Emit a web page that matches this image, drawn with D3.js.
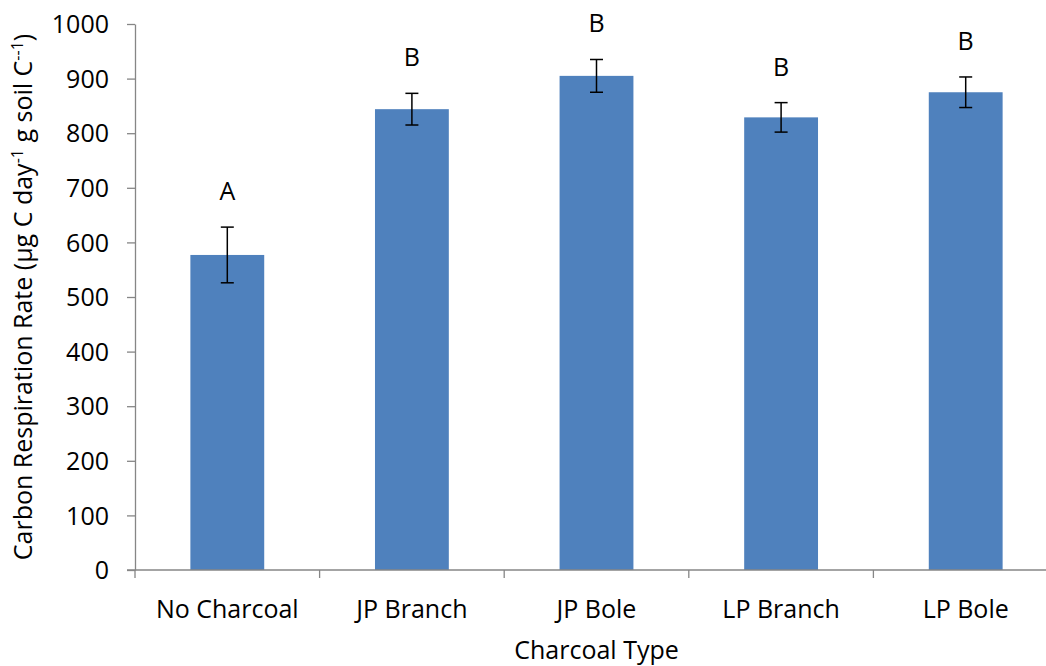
<!DOCTYPE html>
<html>
<head>
<meta charset="utf-8">
<script src="https://cdn.jsdelivr.net/npm/d3@7"></script>
<style>
  html, body { margin: 0; padding: 0; background: #fff; }
  svg { display: block; }
  text { font-family: "Open Sans", "Noto Sans", sans-serif; fill: #000; }
</style>
</head>
<body>
<svg id="chart" width="1046" height="666"></svg>
<script>
// Carbon respiration by charcoal type: means, standard errors, significance letters
const categories = ["No Charcoal", "JP Branch", "JP Bole", "LP Branch", "LP Bole"];
const means = [577, 844, 905, 829, 875];
const errors = [51, 29, 30, 27, 28];
const letters = ["A", "B", "B", "B", "B"];
const yTicks = [0, 100, 200, 300, 400, 500, 600, 700, 800, 900, 1000];

const svg = d3.select("#chart");
const fontSize = 25;

const x = d3.scaleBand()
  .domain(categories)
  .range([135, 1058])
  .paddingInner(0.6)
  .paddingOuter(0.3);

const y = d3.scaleLinear().domain([0, 1000]).range([570, 24]);

const axisColor = "#868686";

// y axis
const yAxis = svg.append("g")
  .attr("transform", "translate(135,0)")
  .call(d3.axisLeft(y).tickValues(yTicks).tickFormat(d3.format("d"))
    .tickSize(8).tickPadding(18).tickSizeOuter(0));
yAxis.select(".domain").attr("stroke", axisColor).attr("stroke-width", 1.3);
yAxis.selectAll(".tick line").attr("stroke", axisColor).attr("stroke-width", 1.3);
yAxis.selectAll(".tick text").attr("font-size", fontSize).attr("font-family", null).attr("dy", "0.35em");

// bars
svg.append("g").selectAll("rect")
  .data(categories)
  .join("rect")
  .attr("x", d => x(d))
  .attr("width", x.bandwidth())
  .attr("y", (d, i) => y(means[i]))
  .attr("height", (d, i) => y(0) - y(means[i]))
  .attr("fill", "#4F81BD");

// x axis (category boundaries as tick marks)
const xAxisG = svg.append("g").attr("transform", "translate(0,570)");
xAxisG.append("line")
  .attr("x1", 127).attr("x2", 1058)
  .attr("stroke", axisColor).attr("stroke-width", 1.3);
const bounds = d3.range(categories.length + 1).map(i => x.range()[0] + i * (x.range()[1] - x.range()[0]) / categories.length);
xAxisG.selectAll("line.tk")
  .data(bounds)
  .join("line")
  .attr("class", "tk")
  .attr("x1", d => d).attr("x2", d => d)
  .attr("y1", 0).attr("y2", 8)
  .attr("stroke", axisColor).attr("stroke-width", 1.3);
xAxisG.selectAll("text")
  .data(categories)
  .join("text")
  .attr("x", d => x(d) + x.bandwidth() / 2)
  .attr("y", 48)
  .attr("text-anchor", "middle")
  .attr("font-size", fontSize)
  .text(d => d);

// error bars
const eb = svg.append("g").attr("stroke", "#000").attr("stroke-width", 1.5);
categories.forEach((c, i) => {
  const cx = x(c) + x.bandwidth() / 2;
  const hi = y(means[i] + errors[i]);
  const lo = y(means[i] - errors[i]);
  eb.append("line").attr("x1", cx).attr("x2", cx).attr("y1", hi).attr("y2", lo);
  eb.append("line").attr("x1", cx - 6.5).attr("x2", cx + 6.5).attr("y1", hi).attr("y2", hi);
  eb.append("line").attr("x1", cx - 6.5).attr("x2", cx + 6.5).attr("y1", lo).attr("y2", lo);
});

// significance letters above error bars
svg.append("g").selectAll("text")
  .data(categories)
  .join("text")
  .attr("x", d => x(d) + x.bandwidth() / 2)
  .attr("y", (d, i) => y(means[i] + errors[i]) - 27)
  .attr("text-anchor", "middle")
  .attr("font-size", fontSize)
  .text((d, i) => letters[i]);

// axis titles
svg.append("text")
  .attr("x", (x.range()[0] + x.range()[1]) / 2)
  .attr("y", 659)
  .attr("text-anchor", "middle")
  .attr("font-size", fontSize)
  .text("Charcoal Type");

const yt = svg.append("text")
  .attr("transform", `translate(32,${(y(0) + y(1000)) / 2}) rotate(-90)`)
  .attr("text-anchor", "middle")
  .attr("font-size", fontSize);
yt.append("tspan").text("Carbon Respiration Rate (µg C day");
yt.append("tspan").attr("dy", -9).attr("font-size", 16).text("-1");
yt.append("tspan").attr("dy", 9).text(" g soil C");
yt.append("tspan").attr("dy", -9).attr("font-size", 16).text("--1");
yt.append("tspan").attr("dy", 9).text(")");
</script>
</body>
</html>
